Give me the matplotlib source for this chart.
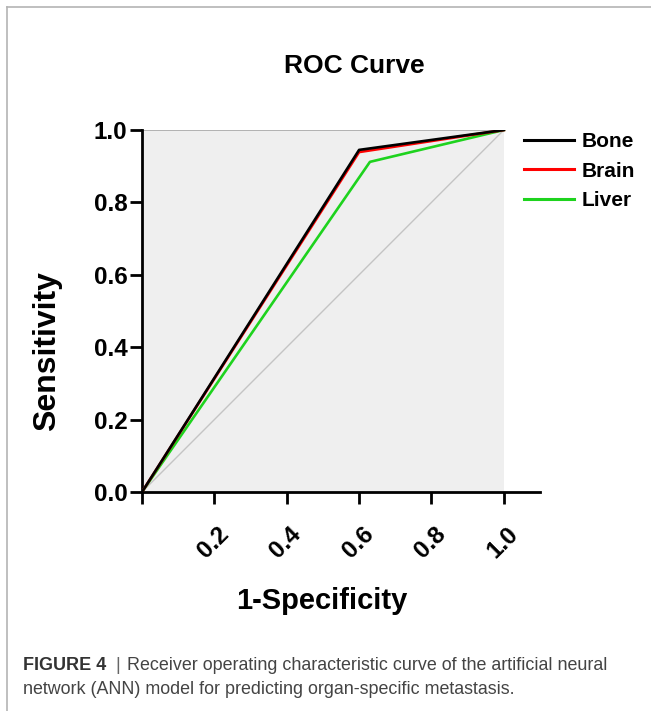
import matplotlib
matplotlib.use('Agg')
import matplotlib.pyplot as plt
import matplotlib.transforms as mtransforms
from matplotlib.lines import Line2D

plt.rcParams['font.family'] = ['Liberation Sans', 'DejaVu Sans']

# ROC points
fpr_bone = [0.0, 0.60, 1.0]
tpr_bone = [0.0, 0.945, 1.0]
fpr_brain = [0.0, 0.60, 1.0]
tpr_brain = [0.0, 0.939, 1.0]
fpr_liver = [0.0, 0.63, 1.0]
tpr_liver = [0.0, 0.912, 1.0]

series = ['Bone', 'Brain', 'Liver']
colors = ['black', '#ff0000', '#1ed31e']
xticks = [0.0, 0.2, 0.4, 0.6, 0.8, 1.0]
xtick_labels = ['', '0.2', '0.4', '0.6', '0.8', '1.0']
yticks = [0.0, 0.2, 0.4, 0.6, 0.8, 1.0]

fig = plt.figure(figsize=(6.51, 7.11), dpi=100)
ax = fig.add_axes([142 / 651, 1 - 492 / 711, 398 / 651, 362 / 711])

# grey plot area and reference lines
ax.fill_between([0, 1], 0, 1, color='#efefef', lw=0, zorder=0)
ax.plot([0, 1], [1, 1], color='#a8a8a8', lw=1.2, zorder=1)
ax.plot([0, 1], [0, 1], color='#c4c4c4', lw=1.0, zorder=1)

ax.plot(fpr_liver, tpr_liver, color=colors[2], lw=1.9, label=series[2], zorder=3)
ax.plot(fpr_brain, tpr_brain, color=colors[1], lw=1.9, label=series[1], zorder=4)
ax.plot(fpr_bone, tpr_bone, color=colors[0], lw=1.9, label=series[0], zorder=5)

ax.set_xlim(0, 1.1)
ax.set_ylim(0, 1)
ax.spines['top'].set_visible(False)
ax.spines['right'].set_visible(False)
ax.spines['left'].set_linewidth(2.0)
ax.spines['bottom'].set_linewidth(2.0)
ax.set_facecolor('white')

ax.set_yticks(yticks)
ax.set_yticklabels(['%.1f' % v for v in yticks], fontsize=17.5, fontweight='bold')
ax.set_xticks(xticks)
ax.set_xticklabels(xtick_labels, fontsize=17.5, fontweight='bold',
                   rotation=45, rotation_mode='anchor', ha='right', va='center')
ax.tick_params(axis='both', length=8.5, width=2.0, color='black')
ax.tick_params(axis='y', pad=2)
ax.tick_params(axis='x', pad=19)
offset = mtransforms.ScaledTranslation(11 / 100, 0, fig.dpi_scale_trans)
for lbl in ax.get_xticklabels():
    lbl.set_transform(lbl.get_transform() + offset)

h, l = ax.get_legend_handles_labels()
order = [2, 1, 0]
leg = ax.legend([h[i] for i in order], [l[i] for i in order],
                loc='upper left', bbox_to_anchor=(374 / 398, 1.018), frameon=False,
                prop={'size': 15, 'weight': 'bold'}, handlelength=2.4,
                handletextpad=0.35, labelspacing=0.52, borderaxespad=0)
for ln in leg.get_lines():
    ln.set_linewidth(2.2)

fig.text(354 / 651, 1 - 66 / 711, 'ROC Curve', fontsize=19, fontweight='bold',
         ha='center', va='center')
fig.text(322 / 651, 1 - 601 / 711, '1-Specificity', fontsize=21, fontweight='bold',
         ha='center', va='center')
fig.text(47 / 651, 1 - 351 / 711, 'Sensitivity', fontsize=23, fontweight='bold',
         ha='center', va='center', rotation=90)

# caption
fig.text(23 / 651, 1 - 666 / 711, 'FIGURE 4', fontsize=13, fontweight='bold',
         color='#333333', ha='left', va='center')
fig.text(118 / 651, 1 - 666 / 711, '|', fontsize=12.9, color='#666666',
         ha='center', va='center')
fig.text(127 / 651, 1 - 666 / 711,
         'Receiver operating characteristic curve of the artificial neural',
         fontsize=12.9, color='#444444', ha='left', va='center')
fig.text(23 / 651, 1 - 689 / 711,
         'network (ANN) model for predicting organ-specific metastasis.',
         fontsize=12.9, color='#444444', ha='left', va='center')

# page frame
fig.add_artist(Line2D([7 / 651, 1], [1 - 7 / 711, 1 - 7 / 711], color='#b4b4b4', lw=1.2))
fig.add_artist(Line2D([7 / 651, 7 / 651], [0, 1 - 7 / 711], color='#b4b4b4', lw=1.2))

fig.savefig('out.png', dpi=100)
